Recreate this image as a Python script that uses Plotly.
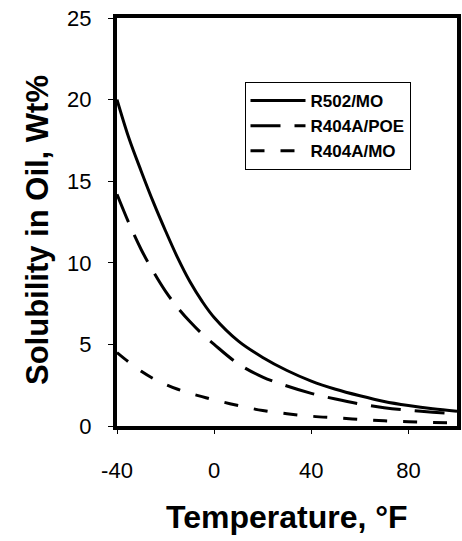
import plotly.graph_objects as go

# temperatures in °F
temps = [-40, -35, -30, -25, -20, -15, -10, -5, 0, 10, 20, 30, 40, 50, 60, 70, 80, 90, 100]

# solubility, wt%
r502_mo = [20.0, 17.6, 15.6, 13.7, 11.95, 10.3, 8.85, 7.65, 6.65, 5.2, 4.2, 3.4, 2.75, 2.25, 1.85, 1.5, 1.25, 1.05, 0.9]
r404a_poe = [14.2, 12.4, 10.8, 9.45, 8.25, 7.25, 6.4, 5.65, 5.0, 3.8, 3.0, 2.45, 2.0, 1.65, 1.35, 1.12, 0.96, 0.85, 0.75]
r404a_mo = [4.5, 3.9, 3.35, 2.9, 2.55, 2.25, 2.0, 1.8, 1.6, 1.25, 0.95, 0.75, 0.6, 0.5, 0.4, 0.32, 0.26, 0.22, 0.2]

x_ticks = [-40, 0, 40, 80]
x_labels = ["-40", "0", "40", "80"]
y_ticks = [0, 5, 10, 15, 20, 25]

FONT = "Arial, Liberation Sans, sans-serif"

fig = go.Figure()

fig.add_trace(go.Scatter(x=temps, y=r502_mo, name="R502/MO", mode="lines",
                         line=dict(color="black", width=3, shape="spline")))
fig.add_trace(go.Scatter(x=temps, y=r404a_poe, name="R404A/POE", mode="lines",
                         line=dict(color="black", width=3, dash="30px,14px", shape="spline")))
fig.add_trace(go.Scatter(x=temps, y=r404a_mo, name="R404A/MO", mode="lines",
                         line=dict(color="black", width=3, dash="14px,16px", shape="spline")))

fig.update_layout(
    width=462,
    height=541,
    margin=dict(l=117, r=5, t=18, b=115),
    plot_bgcolor="white",
    paper_bgcolor="white",
    font=dict(family=FONT, color="black"),
    showlegend=True,
    legend=dict(
        x=0.375, y=0.843, xanchor="left", yanchor="top",
        bordercolor="black", borderwidth=1, bgcolor="white",
        font=dict(size=17, weight="bold"),
        tracegroupgap=0, itemwidth=55,
    ),
    annotations=[
        dict(text="<b>Temperature, °F</b>", xref="paper", yref="paper",
             x=0.5, y=0, yshift=-91, xanchor="center", yanchor="middle",
             showarrow=False, font=dict(size=32)),
        dict(text="<b>Solubility in Oil, Wt%</b>", xref="paper", yref="paper",
             x=0, y=0.5, xshift=-80, yshift=-8, xanchor="center", yanchor="middle",
             textangle=-90, showarrow=False, font=dict(size=31)),
    ],
)

fig.update_xaxes(
    range=[-40, 100],
    tickvals=x_ticks, ticktext=x_labels,
    ticks="outside", ticklen=4, tickwidth=1, tickcolor="black",
    tickfont=dict(size=22),
    ticklabelstandoff=18,
    showline=True, linewidth=4, linecolor="black", mirror=True,
    showgrid=False, zeroline=False, automargin=False,
)

fig.update_yaxes(
    range=[0, 25],
    tickvals=y_ticks,
    ticks="outside", ticklen=5, tickwidth=1, tickcolor="black",
    tickfont=dict(size=22),
    ticklabelstandoff=12,
    showline=True, linewidth=4, linecolor="black", mirror=True,
    showgrid=False, zeroline=False, automargin=False,
)

# the page body has a default margin; drop it so the figure fills the window
fig.write_html("out.html", config={"displayModeBar": False},
               post_script="document.body.style.margin='0';")
